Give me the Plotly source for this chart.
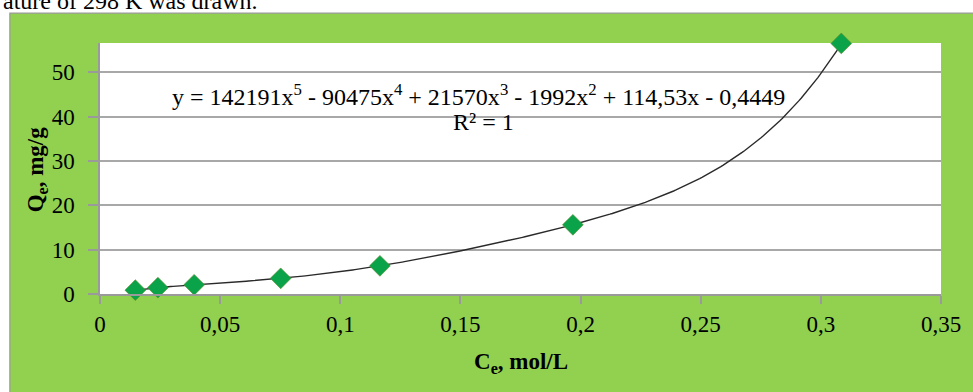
import numpy as np
import plotly.graph_objects as go

# Data
ce_mol_l = [0.0147, 0.0241, 0.0392, 0.0752, 0.1165, 0.1968, 0.3085]
qe_mg_g = [0.87, 1.43, 2.08, 3.53, 6.35, 15.6, 56.5]

# Polynomial trendline coefficients as printed on the chart (highest power first)
trend_coeffs = [142191, -90475, 21570, -1992, 114.53, -0.4449]

x_tick_vals = [0, 0.05, 0.1, 0.15, 0.2, 0.25, 0.3, 0.35]
x_tick_labels = ["0", "0,05", "0,1", "0,15", "0,2", "0,25", "0,3", "0,35"]
y_tick_vals = [0, 10, 20, 30, 40, 50]
y_tick_labels = ["0", "10", "20", "30", "40", "50"]

W, H = 973, 392
L, R, T, B = 100, 24, 43, 97.5
pw, ph = W - L - R, H - T - B

def px_x(p):
    return (p - L) / pw

def px_y(p):
    return (H - B - p) / ph

SERIF = "Liberation Serif, Times New Roman, serif"
GREEN_BG = "#92d050"

xs = np.linspace(min(ce_mol_l), max(ce_mol_l), 300)
ys = np.polyval(trend_coeffs, xs)

fig = go.Figure()
fig.add_trace(go.Scatter(x=xs, y=ys, mode="lines",
                         line=dict(color="#2a2a2a", width=1.4),
                         hoverinfo="skip", showlegend=False, cliponaxis=False))
fig.add_trace(go.Scatter(x=ce_mol_l, y=qe_mg_g, mode="markers",
                         marker=dict(symbol="diamond", size=16, color="#0aa34a",
                                     line=dict(color="#5c8a2a", width=0.6)),
                         showlegend=False, cliponaxis=False))

fig.update_layout(
    width=W, height=H,
    margin=dict(l=L, r=R, t=T, b=B),
    paper_bgcolor="white",
    plot_bgcolor="rgba(0,0,0,0)",
    separators=", ",
    showlegend=False,
    font=dict(family=SERIF, size=23, color="black"),
    shapes=[
        dict(type="rect", xref="paper", yref="paper",
             x0=px_x(9), x1=px_x(990), y0=px_y(410), y1=px_y(13),
             fillcolor=GREEN_BG, line=dict(color="#9a9a9a", width=1.2), layer="below"),
        dict(type="rect", xref="paper", yref="paper",
             x0=0, x1=1, y0=0, y1=1,
             fillcolor="white", line=dict(width=0), layer="below"),
    ],
    xaxis=dict(range=[0, 0.35], tickvals=x_tick_vals, ticktext=x_tick_labels,
               showgrid=False, zeroline=False,
               showline=True, linecolor="#9a9a9a", linewidth=1.5,
               ticks="outside", ticklen=8, tickcolor="#9a9a9a", tickwidth=1.5,
               ticklabelstandoff=1,
               tickfont=dict(family=SERIF, size=23, color="black")),
    yaxis=dict(range=[0, 56.6], tickvals=y_tick_vals, ticktext=y_tick_labels,
               showgrid=True, gridcolor="#a8a8a8", gridwidth=1.5, zeroline=False,
               showline=True, linecolor="#9a9a9a", linewidth=1.5,
               ticks="outside", ticklen=10, tickcolor="#9a9a9a", tickwidth=1.5,
               ticklabelstandoff=9,
               tickfont=dict(family=SERIF, size=23, color="black")),
    annotations=[
        dict(text="ature of 298 K was drawn.", xref="paper", yref="paper",
             x=px_x(0), y=px_y(15.5), xanchor="left", yanchor="bottom", showarrow=False,
             font=dict(family=SERIF, size=24, color="black")),
        dict(text="y = 142191x<sup>5</sup> - 90475x<sup>4</sup> + 21570x<sup>3</sup> - 1992x<sup>2</sup> + 114,53x - 0,4449",
             xref="paper", yref="paper", x=px_x(482), y=px_y(95), xanchor="center", yanchor="middle",
             showarrow=False, font=dict(family=SERIF, size=24, color="black")),
        dict(text="R² = 1", xref="paper", yref="paper", x=px_x(487), y=px_y(122),
             xanchor="center", yanchor="middle", showarrow=False,
             font=dict(family=SERIF, size=24, color="black")),
        dict(text="<b>Q<sub>e</sub>, mg/g</b>", xref="paper", yref="paper",
             x=px_x(36), y=px_y(170), xanchor="center", yanchor="middle", textangle=-90,
             showarrow=False, font=dict(family=SERIF, size=23, color="black")),
        dict(text="<b>C<sub>e</sub>, mol/L</b>", xref="paper", yref="paper",
             x=px_x(525), y=px_y(364), xanchor="center", yanchor="middle",
             showarrow=False, font=dict(family=SERIF, size=23, color="black")),
    ],
)

fig.write_html("out.html")
